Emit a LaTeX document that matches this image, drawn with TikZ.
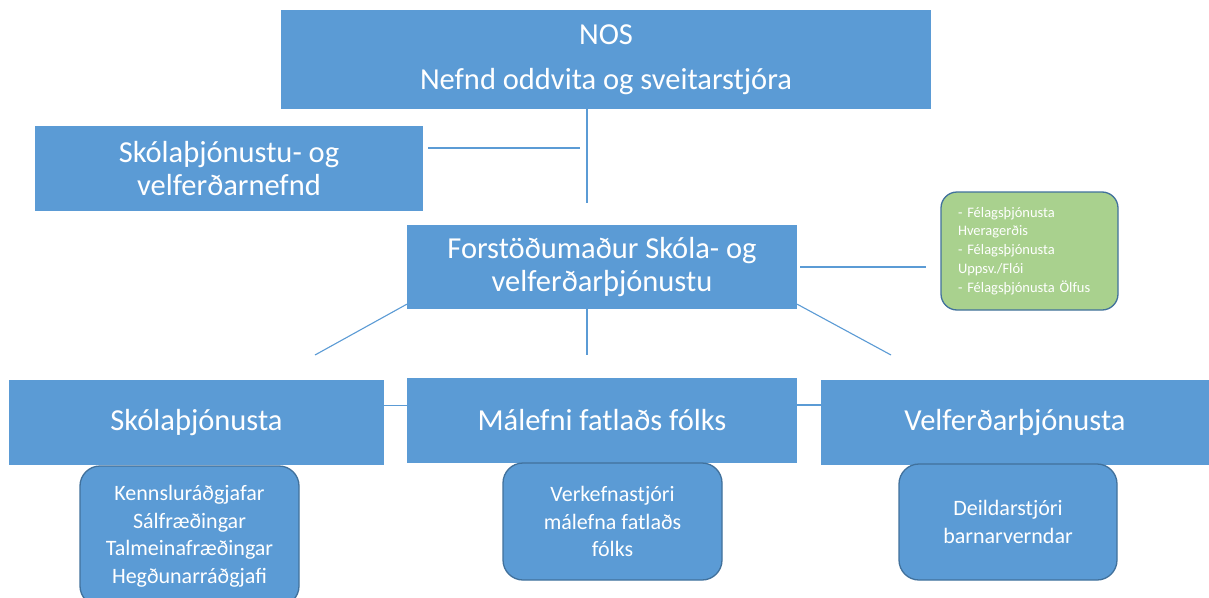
\documentclass[tikz,border=0pt]{standalone}
\usepackage{fontspec}
\setmainfont{Carlito}
\usetikzlibrary{positioning}
\usepackage{xcolor}
\definecolor{boxblue}{HTML}{5B9BD5}
\definecolor{edgeblue}{HTML}{41719C}
\definecolor{boxgreen}{HTML}{A9D18E}

\tikzset{
 unit/.style={fill=boxblue, text=white, align=center, inner sep=0, font=\fontsize{30.5}{33}\selectfont},
 staff/.style={unit, rounded corners=20, draw=edgeblue, line width=1.3, font=\fontsize{22}{27.5}\selectfont},
 office/.style={fill=boxgreen, draw=edgeblue, line width=1.3, rounded corners=16, text=white, align=left, inner sep=0, text width=143, minimum width=177, minimum height=118, font=\fontsize{14.5}{18.8}\selectfont},
 link/.style={draw=boxblue, line width=1.1}
}

\begin{document}
\begin{tikzpicture}[x=1pt, y=-1pt]
\clip (0,0) rectangle (1209,597);
\fill[white] (0,0) rectangle (1209,597);

\node[unit, minimum width=650, minimum height=99] (nos) at (606,59.5) {NOS\\[12pt]Nefnd oddvita og sveitarstjóra};
\node[unit, minimum width=388, minimum height=85] (nefnd) at (229,168.5) {Skólaþjónustu- og\\velferðarnefnd};
\node[unit, minimum width=390, minimum height=84] (forst) at (602,267) {Forstöðumaður Skóla- og\\velferðarþjónustu};
\node[office] (felag) at (1029.5,251) {- Félagsþjónusta\\Hveragerðis\\- Félagsþjónusta\\Uppsv./Flói\\- Félagsþjónusta Ölfus};

\node[unit, minimum width=375, minimum height=85] (skola) at (196.5,422.5) {Skólaþjónusta};
\node[unit, minimum width=390, minimum height=85] (malefni) at (602,420.5) {Málefni fatlaðs fólks};
\node[unit, minimum width=388, minimum height=85] (velferd) at (1015,422.5) {Velferðarþjónusta};

\node[staff, minimum width=219, minimum height=140] (radgjafar) at (189.5,536) {Kennsluráðgjafar\\Sálfræðingar\\Talmeinafræðingar\\Hegðunarráðgjafi};
\node[staff, minimum width=219, minimum height=117] (verkefni) at (612.5,521.5) {Verkefnastjóri\\málefna fatlaðs\\fólks};
\node[staff, minimum width=218, minimum height=116] (deild) at (1008,522) {Deildarstjóri\\barnarverndar};

% connectors
\coordinate (hub) at (587,203);
\coordinate (nefndend) at (580,148);
\coordinate (lefttip) at (315,355);
\coordinate (midtip) at (587,355);
\coordinate (righttip) at (891,355);

\draw[link] (nos.south -| hub) -- (hub);
\draw[link] ([xshift=5]nefnd.east |- nefndend) -- (nefndend);
\draw[link] ([xshift=3]forst.east) -- ([xshift=-14]felag.west |- forst.east);
\draw[link] ([yshift=5]forst.south west) -- (lefttip);
\draw[link] (forst.south -| midtip) -- (midtip);
\draw[link] ([yshift=5]forst.south east) -- (righttip);
\draw[link] ([yshift=17]skola.east) -- ([yshift=17]skola.east -| malefni.west);
\draw[link] ([yshift=15.5]malefni.east) -- ([yshift=15.5]malefni.east -| velferd.west);
\end{tikzpicture}
\end{document}
